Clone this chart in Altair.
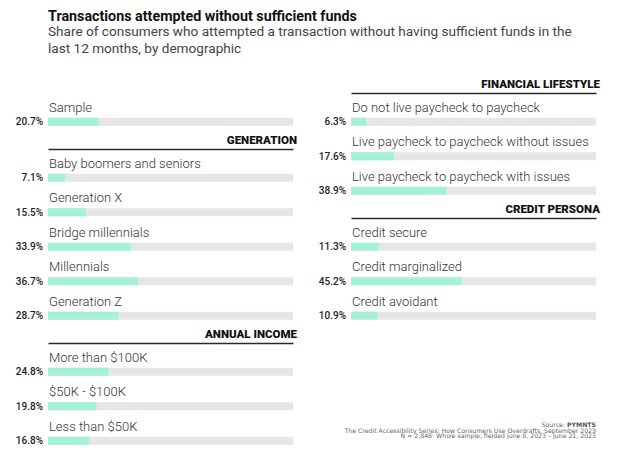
import altair as alt
import pandas as pd

# ---- data ----
sample_labels = ["Sample"]
sample_values = [20.7]

generation_labels = ["Baby boomers and seniors", "Generation X", "Bridge millennials",
                     "Millennials", "Generation Z"]
generation_values = [7.1, 15.5, 33.9, 36.7, 28.7]

income_labels = ["More than $100K", "$50K - $100K", "Less than $50K"]
income_values = [24.8, 19.8, 16.8]

lifestyle_labels = ["Do not live paycheck to paycheck",
                    "Live paycheck to paycheck without issues",
                    "Live paycheck to paycheck with issues"]
lifestyle_values = [6.3, 17.6, 38.9]

persona_labels = ["Credit secure", "Credit marginalized", "Credit avoidant"]
persona_values = [11.3, 45.2, 10.9]

source_head = ["Source: ", "PYMNTS"]
source_lines = ["The Credit Accessibility Series: How Consumers Use Overdrafts, September 2023",
                "N = 2,848: Whole sample, fielded June 8, 2023 \u2013 June 21, 2023"]

title_text = "Transactions attempted without sufficient funds"
subtitle_lines = ["Share of consumers who attempted a transaction without having sufficient funds in the",
                  "last 12 months, by demographic"]

# ---- style ----
ROW = 34.5
W = 245
MINT = "#a5f2d9"
TRACK = "#e6e6e8"
FONT = "Roboto"
SFONT = "DejaVu Sans"


def panel(header, labels, values, extra=None):
    df = pd.DataFrame({"label": labels, "value": values})
    df["start"] = 0
    df["full"] = 100
    df["pct"] = [f"{v:.1f}%" for v in values]
    h = ROW * len(labels)
    xs = alt.Scale(domain=[0, 100], nice=False, zero=True)
    ys = alt.Scale(type="band", domain=labels, paddingInner=0, paddingOuter=0)
    xaxis = alt.Axis(orient="top", domain=True,
                     domainColor="#2a2a2a" if header else "transparent", domainWidth=1.6,
                     ticks=False, labels=False, grid=False, title=None)
    base = alt.Chart(df)
    track = base.mark_rule(color=TRACK, strokeWidth=8, strokeCap="butt").encode(
        x=alt.X("start:Q", scale=xs, axis=xaxis),
        x2="full:Q",
        y=alt.Y("label:N", scale=ys, axis=None, bandPosition=0.83),
    )
    bar = base.mark_rule(color=MINT, strokeWidth=8, strokeCap="butt").encode(
        x=alt.X("start:Q", scale=xs),
        x2="value:Q",
        y=alt.Y("label:N", scale=ys, bandPosition=0.83),
    )
    lab = base.mark_text(align="left", baseline="middle", dx=1, font=FONT,
                         fontSize=13, fontWeight=300, color="#333333").encode(
        x=alt.X("start:Q", scale=xs),
        y=alt.Y("label:N", scale=ys, bandPosition=0.43),
        text="label:N",
    )
    pct = base.mark_text(align="right", baseline="middle", dx=-5, font=FONT,
                         fontSize=10, fontWeight=500, color="#222222").encode(
        x=alt.X("start:Q", scale=xs),
        y=alt.Y("label:N", scale=ys, bandPosition=0.85),
        text="pct:N",
    )
    layers = [track, bar, lab, pct]
    if extra is not None:
        layers += extra
    title = alt.TitleParams(header if header else "\u00a0", anchor="end", font=FONT,
                            fontSize=11.5, fontWeight=900, color="#111111", offset=3)
    return alt.layer(*layers).properties(width=W, height=h, title=title)


src_df = pd.DataFrame({"a": [source_head[0]], "b": [source_head[1]],
                       "c": [source_lines]})
src_b = alt.Chart(src_df).mark_text(align="right", baseline="middle", font=SFONT,
                                    fontSize=6.2, fontWeight="bold", color="#555555").encode(
    x=alt.value(W), y=alt.value(206.5), text="b:N")
src_a = alt.Chart(src_df).mark_text(align="right", baseline="middle", font=SFONT,
                                    fontSize=6.2, color="#666666", dx=-31).encode(
    x=alt.value(W), y=alt.value(206.5), text="a:N")
src_c = alt.Chart(src_df).mark_text(align="right", baseline="top", font=SFONT,
                                    fontSize=6.2, color="#666666", lineHeight=5.9).encode(
    x=alt.value(W), y=alt.value(209.5), text="c")

left = alt.vconcat(
    panel(None, sample_labels, sample_values),
    panel("GENERATION", generation_labels, generation_values),
    panel("ANNUAL INCOME", income_labels, income_values),
    spacing=21, bounds="flush",
)
right = alt.vconcat(
    panel("FINANCIAL LIFESTYLE", lifestyle_labels, lifestyle_values),
    panel("CREDIT PERSONA", persona_labels, persona_values, extra=[src_a, src_b, src_c]),
    spacing=21, bounds="flush",
)

chart = alt.hconcat(left, right, spacing=21).properties(
    title=alt.TitleParams(
        title_text, subtitle=subtitle_lines, anchor="start", frame="group",
        font=FONT, fontSize=14.3, fontWeight="bold", color="#111111",
        subtitleFont=FONT, subtitleFontSize=13.6, subtitleColor="#444444",
        subtitleLineHeight=16.4, subtitlePadding=1, offset=23,
    ),
    padding={"left": 7, "top": 2, "right": 5, "bottom": 5},
    background="white",
).configure_view(strokeWidth=0)

chart.save("out.html", embed_options={"renderer": "svg", "actions": False})
